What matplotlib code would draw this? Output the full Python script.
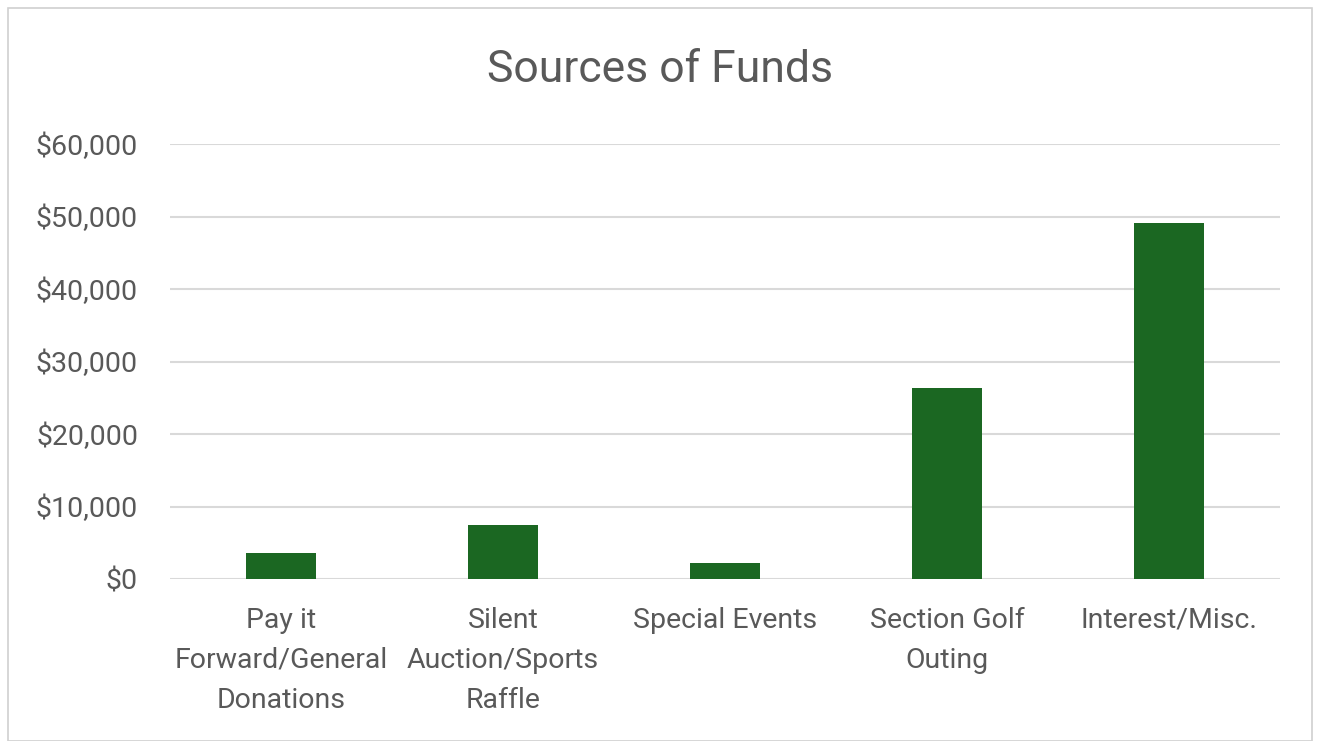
import matplotlib.pyplot as plt
from matplotlib.patches import Rectangle
from matplotlib.ticker import FuncFormatter

categories = ['Pay it\nForward/General\nDonations', 'Silent\nAuction/Sports\nRaffle',
              'Special Events', 'Section Golf\nOuting', 'Interest/Misc.']
amounts = [3550, 7500, 2250, 26400, 49050]
yticks = [0, 10000, 20000, 30000, 40000, 50000, 60000]

plt.rcParams['font.family'] = ['Roboto', 'DejaVu Sans']
text_color = '#595959'

fig = plt.figure(figsize=(13.2, 7.41), dpi=100)
fig.patch.set_facecolor('white')
ax = fig.add_axes([170 / 1320, 1 - 579 / 741, 1110 / 1320, 435 / 741])

ax.bar(range(len(categories)), amounts, width=0.315, color='#1B6722', zorder=3)
ax.set_xlim(-0.5, len(categories) - 0.5)
ax.set_ylim(0, 60000)
ax.set_yticks(yticks)
ax.yaxis.set_major_formatter(FuncFormatter(lambda v, p: f'${v:,.0f}'))
ax.set_xticks(range(len(categories)))
ax.set_xticklabels(categories, linespacing=1.62, va='top')

ax.grid(axis='y', color='#d9d9d9', linewidth=1.5, zorder=0)
for s in ax.spines.values():
    s.set_visible(False)
ax.tick_params(axis='both', length=0, labelsize=20.5, colors=text_color)
ax.tick_params(axis='y', pad=23)
ax.tick_params(axis='x', pad=20)

fig.text(0.5, 1 - 70 / 741, 'Sources of Funds', ha='center', va='center',
         fontsize=32, color=text_color)

fig.patches.append(Rectangle((8 / 1320, 0), 1304 / 1320, 1 - 8 / 741,
                             transform=fig.transFigure, fill=False,
                             edgecolor='#d0d0d0', linewidth=1.2))

fig.savefig('out.png', dpi=100, facecolor='white')
